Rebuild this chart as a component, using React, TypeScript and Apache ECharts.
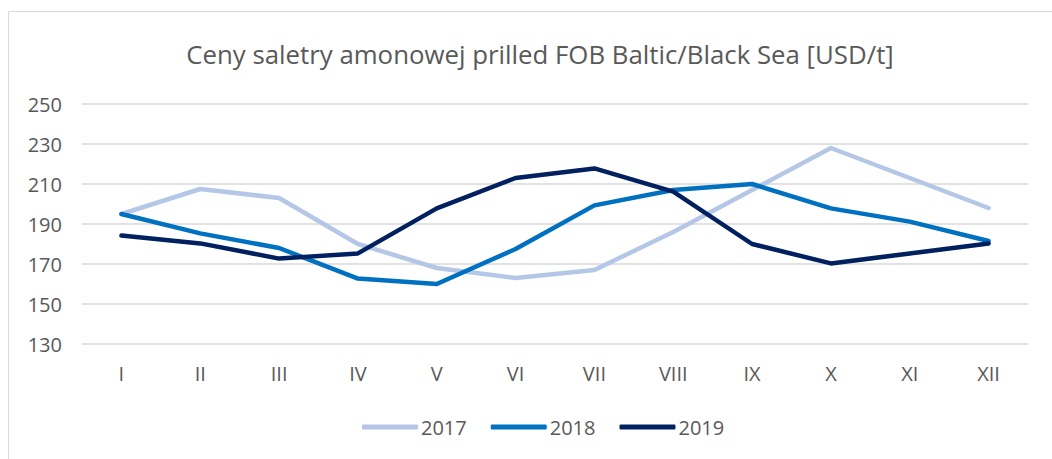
import React, { useEffect, useRef } from "react";
import * as echarts from "echarts";

const months = ["I", "II", "III", "IV", "V", "VI", "VII", "VIII", "IX", "X", "XI", "XII"];
const s2017 = [195, 207.5, 203, 180, 168, 163, 167, 186, 207, 228, 213, 198];
const s2018 = [195, 185.3, 178, 162.7, 160, 177.5, 199.3, 207, 210, 197.8, 191.2, 181.5];
const s2019 = [184.2, 180.3, 172.7, 175.3, 197.8, 213, 217.8, 206.2, 180, 170.3, 175.3, 180.3];
const seriesNames = ["2017", "2018", "2019"];
const colors = ["#B4C7E7", "#0070C0", "#002060"];
const titleText = "Ceny saletry amonowej prilled FOB Baltic/Black Sea [USD/t]";

export default function App() {
  const ref = useRef<HTMLDivElement>(null);
  useEffect(() => {
    if (!ref.current) return;
    const chart = echarts.init(ref.current, undefined, { renderer: "svg" });
    const font = "Open Sans";
    const data = [s2017, s2018, s2019];
    chart.setOption({
      animation: false,
      backgroundColor: "#ffffff",
      textStyle: { fontFamily: font },
      title: {
        text: titleText,
        left: 535,
        top: 36,
        textAlign: "center",
        textStyle: { fontFamily: font, fontSize: 25.8, fontWeight: "normal", color: "#595959" },
      },
      graphic: [
        {
          type: "rect",
          shape: { x: 8.5, y: 11.5, width: 1100, height: 500 },
          style: { fill: "none", stroke: "#D9D9D9", lineWidth: 1 },
          silent: true,
          z: -1,
        },
      ],
      legend: {
        data: seriesNames,
        bottom: 17,
        left: 357,
        icon: "roundRect",
        itemWidth: 56,
        itemHeight: 5,
        itemGap: 24,
        textStyle: { fontFamily: font, fontSize: 20, color: "#595959", padding: [0, 0, 0, -2] },
      },
      grid: { left: 82, right: 24, top: 104, bottom: 115 },
      xAxis: {
        type: "category",
        data: months,
        boundaryGap: true,
        axisLine: { show: false },
        axisTick: { show: false },
        axisLabel: { fontFamily: font, fontSize: 20, color: "#595959", margin: 19 },
      },
      yAxis: {
        type: "value",
        min: 130,
        max: 250,
        interval: 20,
        axisLine: { show: false },
        axisTick: { show: false },
        axisLabel: { fontFamily: font, fontSize: 20, color: "#595959", margin: 20 },
        splitLine: { lineStyle: { color: "#D9D9D9", width: 1.5 } },
      },
      series: seriesNames.map((n, i) => ({
        name: n,
        type: "line",
        data: data[i],
        symbol: "none",
        color: colors[i],
        lineStyle: { width: 4.5, color: colors[i], cap: "round", join: "round" },
        itemStyle: { color: colors[i] },
      })),
    });
    return () => chart.dispose();
  }, []);
  return (
    <div
      ref={ref}
      style={{ position: "absolute", left: 0, top: 0, width: 1052, height: 459 }}
    />
  );
}
